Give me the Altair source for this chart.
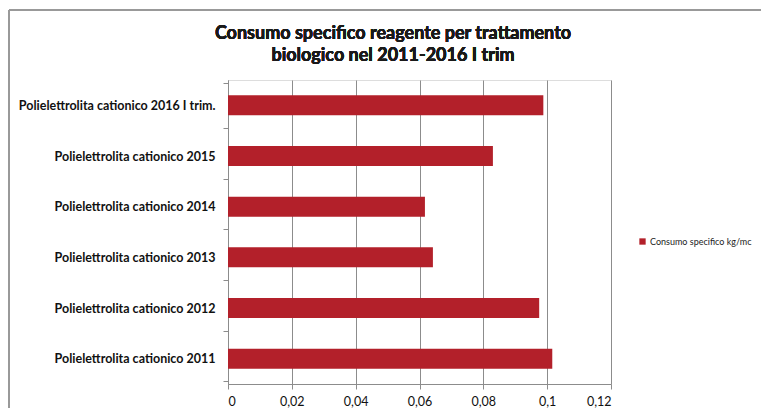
import altair as alt
import pandas as pd

categories = [
    "Polielettrolita cationico 2016 I trim.",
    "Polielettrolita cationico 2015",
    "Polielettrolita cationico 2014",
    "Polielettrolita cationico 2013",
    "Polielettrolita cationico 2012",
    "Polielettrolita cationico 2011",
]
values = [0.0988, 0.0830, 0.0617, 0.0642, 0.0975, 0.1016]
series_name = "Consumo specifico kg/mc"
x_ticks = [0, 0.02, 0.04, 0.06, 0.08, 0.1, 0.12]
title_lines = ["Consumo specifico reagente per trattamento", "biologico nel 2011-2016 I trim"]

df = pd.DataFrame({"cat": categories, "val": values, "serie": [series_name] * len(categories)})

FONT = "Lato"
RED = "#B3202A"

bars = alt.Chart(df).mark_bar(color=RED, size=20).encode(
    x=alt.X("val:Q", scale=alt.Scale(domain=[0, 0.12], nice=False),
            axis=alt.Axis(values=x_ticks, title=None, grid=True, gridColor="#8c8c8c",
                          gridWidth=1, domainColor="#8c8c8c", tickColor="#8c8c8c",
                          tickSize=5, labelFont=FONT, labelFontSize=12.5, labelColor="#111",
                          labelPadding=6,
                          labelExpr="replace(format(datum.value, '.2~f'), '.', ',')")),
    y=alt.Y("cat:N", sort=categories,
            axis=alt.Axis(title=None, domainColor="#8c8c8c", tickColor="#8c8c8c",
                          tickSize=5, tickBand="extent", labelFont=FONT, labelFontSize=12.5,
                          labelFontWeight="bold", labelColor="#111", labelPadding=8,
                          labelLimit=260)),
    fill=alt.Fill("serie:N", scale=alt.Scale(range=[RED]),
                  legend=alt.Legend(title=None, orient="none", legendX=410, legendY=157,
                                    symbolType="square", symbolSize=40, symbolStrokeWidth=0,
                                    labelFont=FONT, labelFontSize=9, labelColor="#222",
                                    labelOffset=3, labelLimit=200)),
)

top_border = alt.Chart(df).mark_rule(color="#999999", strokeWidth=2).encode(
    x=alt.value(-219), x2=alt.value(540), y=alt.value(-70))
left_border = alt.Chart(df).mark_rule(color="#999999", strokeWidth=2).encode(
    x=alt.value(-219), y=alt.value(-70), y2=alt.value(330))

title1 = alt.Chart(df).mark_text(font=FONT, fontSize=18, fontWeight="bold", color="#1a1a1a",
                                 align="center", baseline="middle").encode(
    x=alt.value(165), y=alt.value(-46), text=alt.value(title_lines[0]))
title2 = alt.Chart(df).mark_text(font=FONT, fontSize=18, fontWeight="bold", color="#1a1a1a",
                                 align="center", baseline="middle").encode(
    x=alt.value(165), y=alt.value(-24), text=alt.value(title_lines[1]))

chart = alt.layer(top_border, left_border, title1, title2, bars).properties(
    width=383, height=304,
    autosize=alt.AutoSizeParams(type="none"),
    padding={"left": 220, "top": 72, "right": 150, "bottom": 24},
).configure_view(stroke=None).configure(background="white")

chart.save("out.html", embed_options={"renderer": "svg", "actions": False})
